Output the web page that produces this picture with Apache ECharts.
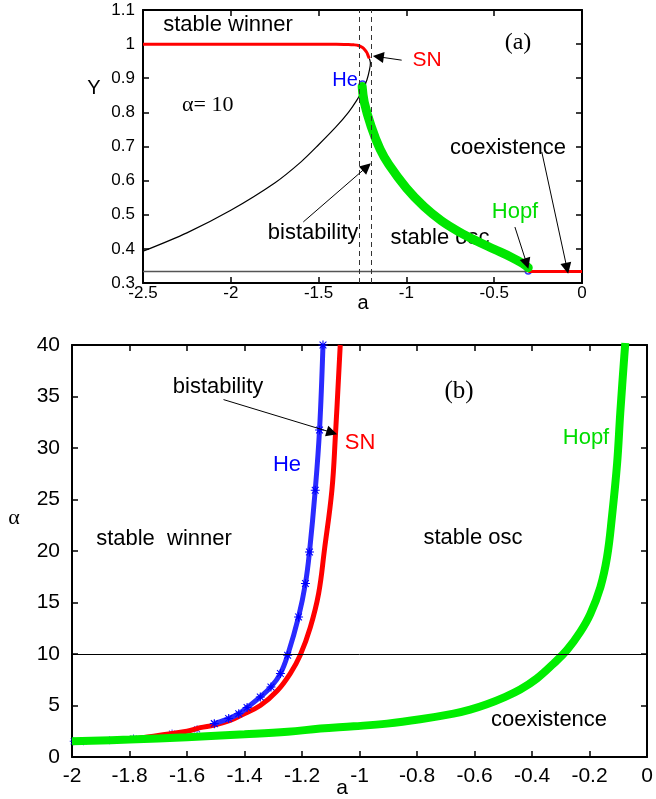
<!DOCTYPE html>
<html>
<head>
<meta charset="utf-8">
<script src="https://cdn.jsdelivr.net/npm/echarts@6/dist/echarts.min.js"></script>
<style>
  html, body { margin: 0; padding: 0; background: #fff; }
  #main { width: 656px; height: 799px; }
</style>
</head>
<body>
<div id="main"></div>
<script>
// ---- panel (a): bifurcation diagram at alpha = 10 ----
const winnerA = [-2.5, -2, -1.5, -1.4, -1.33, -1.3, -1.274, -1.25, -1.236, -1.225, -1.217, -1.211];
const winnerY = [1, 1, 1, 1, 0.999, 0.998, 0.996, 0.99, 0.983, 0.975, 0.965, 0.958];
const unstableA = [-2.5, -2.25, -2.0, -1.75, -1.6, -1.5, -1.4, -1.33, -1.283, -1.25, -1.225, -1.21, -1.205, -1.211];
const unstableY = [0.393, 0.447, 0.513, 0.593, 0.655, 0.705, 0.758, 0.80, 0.835, 0.865, 0.895, 0.925, 0.945, 0.958];
const oscA = [-1.252, -1.24, -1.2, -1.15, -1.1, -1.0, -0.9, -0.8, -0.7, -0.6, -0.5, -0.4, -0.34, -0.306];
const oscY = [0.876, 0.83, 0.758, 0.692, 0.647, 0.578, 0.524, 0.482, 0.45, 0.423, 0.399, 0.375, 0.358, 0.345];
const symA = [-2.5, -0.306];
const symY = [0.3335, 0.3335];
const coexA = [-0.306, 0];
const coexY = [0.3335, 0.3335];
const heA = [-1.25];
const heY = [0.883];
const hopfA = [-0.306];
const hopfY = [0.335];
const dashedA = [-1.268, -1.198];

// ---- panel (b): two-parameter diagram ----
const heBandA = [-1.505, -1.455, -1.42, -1.391, -1.345, -1.308, -1.275, -1.25, -1.212, -1.188, -1.174, -1.154, -1.139, -1.127];
const heBandAlpha = [3.24, 3.73, 4.2, 4.8, 5.83, 6.8, 8.1, 9.88, 13.6, 16.85, 19.9, 25.9, 31.75, 40];
const heStarA = [-1.994, -1.96, -1.869, -1.786, -1.652, -1.565, -1.505];
const heStarAlpha = [1.52, 1.52, 1.62, 1.79, 2.27, 2.69, 3.24];
const snA = [-2, -1.8, -1.7, -1.6, -1.554, -1.505, -1.45, -1.415, -1.345, -1.287, -1.241, -1.206, -1.171, -1.142, -1.122, -1.096, -1.084, -1.067];
const snAlpha = [1.5, 1.7, 2.1, 2.5, 2.85, 3.1, 3.55, 4.0, 5.0, 6.4, 8.1, 9.9, 12.6, 15.9, 20.1, 25.9, 31.1, 40];
const hopfCurveA = [-2, -1.8, -1.6, -1.4, -1.25, -1.136, -1.02, -0.904, -0.789, -0.673, -0.615, -0.557, -0.499, -0.441, -0.383, -0.325, -0.278, -0.232, -0.197, -0.162, -0.139, -0.122, -0.104, -0.093, -0.079, -0.0755];
const hopfCurveAlpha = [1.52, 1.69, 1.92, 2.2, 2.45, 2.76, 2.98, 3.24, 3.66, 4.21, 4.6, 5.12, 5.77, 6.55, 7.62, 9.07, 10.4, 12.15, 13.9, 16.5, 19.4, 23.3, 28.5, 33.4, 38.9, 40.2];
const alphaCut = 10;

const SANS = '"Liberation Sans", Arial, Helvetica, sans-serif';
const SERIF = '"Liberation Serif", "Times New Roman", serif';
const STAR = 'path://M4.4,0L5.6,0L5.6,10L4.4,10Z M0,4.4L10,4.4L10,5.6L0,5.6Z M0.8,1.6L1.6,0.8L9.2,8.4L8.4,9.2Z M8.4,0.8L9.2,1.6L1.6,9.2L0.8,8.4Z';

function pairs(xs, ys) {
  return xs.map((x, i) => [x, ys[i]]);
}

function axis(gridIndex, position, min, max, interval, fontSize, showLabel, margin) {
  return {
    type: 'value',
    gridIndex: gridIndex,
    position: position,
    min: min,
    max: max,
    interval: interval,
    splitLine: { show: false },
    axisLine: { show: true, onZero: false, lineStyle: { color: '#000', width: 2 } },
    axisTick: { show: true, inside: true, length: 6, lineStyle: { color: '#000', width: 1.5 } },
    axisLabel: { show: showLabel, color: '#000', fontSize: fontSize, fontFamily: SANS, margin: margin }
  };
}

function arrows(list) {
  return {
    silent: true,
    symbol: ['none', 'triangle'],
    symbolSize: 11,
    lineStyle: { color: '#000', width: 1, type: 'solid' },
    label: { show: false },
    emphasis: { disabled: true },
    data: list.map(p => [{ coord: [p[0], p[1]] }, { coord: [p[2], p[3]] }])
  };
}

function txt(text, x, y, size, color, family, align) {
  return {
    type: 'text',
    x: x,
    y: y,
    silent: true,
    style: {
      text: text,
      fill: color || '#000',
      font: size + 'px ' + (family || SANS),
      align: align || 'center',
      verticalAlign: 'middle'
    }
  };
}

const chart = echarts.init(document.getElementById('main'), null, { renderer: 'canvas' });

const option = {
  animation: false,
  backgroundColor: '#fff',
  grid: [
    { left: 143, top: 10, width: 439, height: 273 },
    { left: 72, top: 345, width: 575, height: 412 }
  ],
  xAxis: [
    axis(0, 'bottom', -2.5, 0, 0.5, 17, true, 2),
    axis(0, 'top', -2.5, 0, 0.5, 17, false, 2),
    axis(1, 'bottom', -2, 0, 0.2, 21, true, 9),
    axis(1, 'top', -2, 0, 0.2, 21, false, 9)
  ],
  yAxis: [
    axis(0, 'left', 0.3, 1.1, 0.1, 17, true, 8),
    axis(0, 'right', 0.3, 1.1, 0.1, 17, false, 8),
    axis(1, 'left', 0, 40, 5, 21, true, 12),
    axis(1, 'right', 0, 40, 5, 21, false, 12)
  ],
  series: [
    {
      type: 'line', xAxisIndex: 0, yAxisIndex: 0,
      data: pairs(symA, symY), showSymbol: false,
      lineStyle: { color: '#555', width: 1.5 },
      markLine: {
        silent: true, symbol: 'none', label: { show: false },
        lineStyle: { color: '#333', width: 1, type: [5, 4] },
        data: dashedA.map(v => ({ xAxis: v }))
      }
    },
    {
      type: 'line', xAxisIndex: 0, yAxisIndex: 0,
      data: pairs(unstableA, unstableY), showSymbol: false, smooth: 0.3,
      lineStyle: { color: '#000', width: 1.2 }
    },
    {
      type: 'line', xAxisIndex: 0, yAxisIndex: 0,
      data: pairs(winnerA, winnerY), showSymbol: false, smooth: 0.3,
      lineStyle: { color: '#ff0000', width: 3 }
    },
    {
      type: 'line', xAxisIndex: 0, yAxisIndex: 0,
      data: pairs(coexA, coexY), showSymbol: false,
      lineStyle: { color: '#ff0000', width: 3 }
    },
    {
      type: 'line', xAxisIndex: 0, yAxisIndex: 0,
      data: pairs(oscA, oscY), showSymbol: false, smooth: 0.4,
      lineStyle: { color: '#00e600', width: 9, cap: 'round' },
      markLine: arrows([
        [-1.027, 0.953, -1.16, 0.963],
        [-1.587, 0.479, -1.226, 0.640],
        [-0.382, 0.464, -0.315, 0.357],
        [-0.229, 0.684, -0.0855, 0.343]
      ])
    },
    {
      type: 'scatter', xAxisIndex: 0, yAxisIndex: 0,
      data: pairs(heA, heY).concat(pairs(hopfA, hopfY)),
      symbol: 'circle', symbolSize: 6,
      itemStyle: { color: '#fff', borderColor: '#0000ff', borderWidth: 1.5 }
    },
    // panel (b)
    {
      type: 'line', xAxisIndex: 2, yAxisIndex: 2,
      data: pairs(snA, snAlpha), showSymbol: false, smooth: 0.4,
      lineStyle: { color: '#ff0000', width: 5 },
      markLine: {
        silent: true, symbol: 'none', label: { show: false },
        lineStyle: { color: '#000', width: 1, type: 'solid' },
        data: [{ yAxis: alphaCut }]
      }
    },
    {
      type: 'line', xAxisIndex: 2, yAxisIndex: 2,
      data: pairs(hopfCurveA, hopfCurveAlpha), showSymbol: false, smooth: 0.4,
      lineStyle: { color: '#00ee00', width: 8 }
    },
    {
      type: 'line', xAxisIndex: 2, yAxisIndex: 2,
      data: pairs(heBandA, heBandAlpha), smooth: 0.4,
      symbol: STAR, symbolSize: 9, showAllSymbol: true,
      itemStyle: { color: '#0000ff' },
      lineStyle: { color: '#2a2aff', width: 5 },
      markLine: arrows([[-1.473, 34.7, -1.096, 31.5]])
    },
    {
      type: 'scatter', xAxisIndex: 2, yAxisIndex: 2,
      data: pairs(heStarA, heStarAlpha),
      symbol: STAR, symbolSize: 8,
      itemStyle: { color: '#0000ff' }
    }
  ],
  graphic: [
    // panel (a) texts
    txt('Y', 94, 88, 20),
    txt('a', 363, 303, 20),
    txt('stable winner', 228, 25, 22),
    txt('α= 10', 182, 105, 22, '#000', SERIF, 'left'),
    txt('He', 345, 80, 20, '#0000ff'),
    txt('SN', 427, 60, 21, '#ff0000'),
    txt('(a)', 518, 43, 24, '#000', SERIF),
    txt('coexistence', 508, 148, 22),
    txt('Hopf', 515, 212, 22, '#00dd00'),
    txt('stable osc', 440, 238, 22),
    txt('bistability', 313, 233, 22),
    // panel (b) texts
    txt('α', 14, 518, 22, '#000', SERIF),
    txt('a', 342, 788, 21),
    txt('bistability', 218, 387, 22),
    txt('He', 287, 465, 22, '#0000ff'),
    txt('SN', 360, 443, 22, '#ff0000'),
    txt('(b)', 459, 391, 25, '#000', SERIF),
    txt('Hopf', 586, 438, 22, '#00dd00'),
    txt('stable  winner', 164, 539, 22),
    txt('stable osc', 473, 538, 22),
    txt('coexistence', 549, 720, 22)
  ]
};

chart.setOption(option);
</script>
</body>
</html>
